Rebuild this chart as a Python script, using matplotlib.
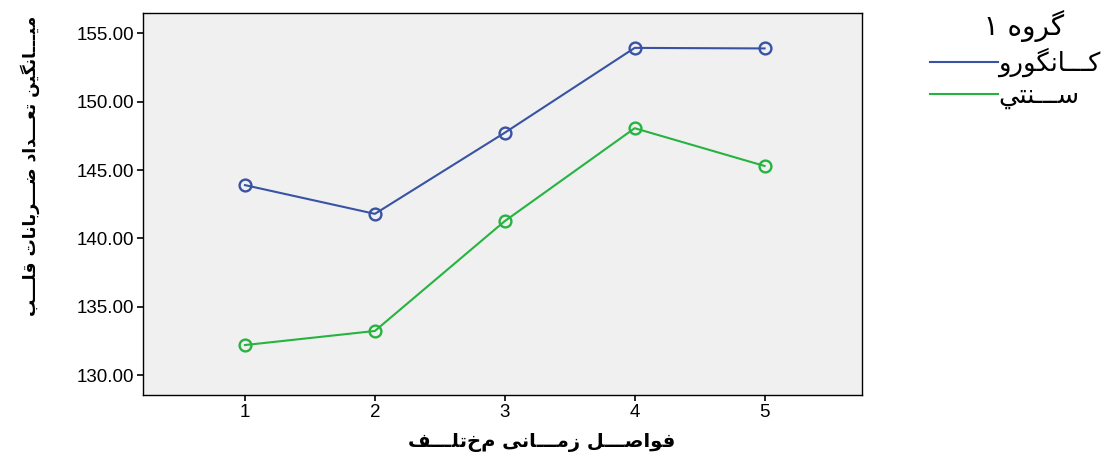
import matplotlib
matplotlib.use('Agg')
from matplotlib import pyplot as plt

plt.rcParams['font.family'] = ['Liberation Sans', 'DejaVu Sans']

# data
intervals = [1, 2, 3, 4, 5]
kangaroo = [143.90, 141.80, 147.73, 153.93, 153.89]
traditional = [132.21, 133.24, 141.27, 148.06, 145.30]
y_ticks = [130, 135, 140, 145, 150, 155]

series_names = ['کـــانگورو', 'ســـنتي']
legend_title = 'گروه'
legend_num = '۱'
x_label = 'فواصـــل زمـــانی مختلـــف'
y_label = 'میـــانگین تعـــداد ضـــربانات قلـــب'

# Arabic/Persian presentation forms: isolated, final, initial, medial
FORMS = {
    'ا': ('\uFE8D', '\uFE8E', None, None),
    'ب': ('\uFE8F', '\uFE90', '\uFE91', '\uFE92'),
    'ت': ('\uFE95', '\uFE96', '\uFE97', '\uFE98'),
    'د': ('\uFEA9', '\uFEAA', None, None),
    'ر': ('\uFEAD', '\uFEAE', None, None),
    'ز': ('\uFEAF', '\uFEB0', None, None),
    'س': ('\uFEB1', '\uFEB2', '\uFEB3', '\uFEB4'),
    'ص': ('\uFEB9', '\uFEBA', '\uFEBB', '\uFEBC'),
    'ض': ('\uFEBD', '\uFEBE', '\uFEBF', '\uFEC0'),
    'ع': ('\uFEC9', '\uFECA', '\uFECB', '\uFECC'),
    'ف': ('\uFED1', '\uFED2', '\uFED3', '\uFED4'),
    'ق': ('\uFED5', '\uFED6', '\uFED7', '\uFED8'),
    'ل': ('\uFEDD', '\uFEDE', '\uFEDF', '\uFEE0'),
    'م': ('\uFEE1', '\uFEE2', '\uFEE3', '\uFEE4'),
    'ن': ('\uFEE5', '\uFEE6', '\uFEE7', '\uFEE8'),
    'ه': ('\uFEE9', '\uFEEA', '\uFEEB', '\uFEEC'),
    'و': ('\uFEED', '\uFEEE', None, None),
    'ي': ('\uFEF1', '\uFEF2', '\uFEF3', '\uFEF4'),
    'ک': ('\uFB8E', '\uFB8F', '\uFB90', '\uFB91'),
    'گ': ('\uFB92', '\uFB93', '\uFB94', '\uFB95'),
    'ی': ('\uFBFC', '\uFBFD', '\uFBFE', '\uFBFF'),
    'ـ': ('ـ', 'ـ', 'ـ', 'ـ'),
}


def shape(text):
    """join the letters and return them in visual (left to right) order"""
    out = []
    for i, ch in enumerate(text):
        if ch not in FORMS:
            out.append(ch)
            continue
        prev = text[i - 1] if i > 0 else ''
        nxt = text[i + 1] if i + 1 < len(text) else ''
        join_prev = prev in FORMS and FORMS[prev][2] is not None
        join_next = nxt in FORMS and FORMS[ch][2] is not None
        iso, fin, ini, med = FORMS[ch]
        if join_prev and join_next:
            out.append(med)
        elif join_prev:
            out.append(fin)
        elif join_next:
            out.append(ini)
        else:
            out.append(iso)
    return ''.join(out)[::-1]


fig = plt.figure(figsize=(11.09, 4.59), dpi=100)
ax = fig.add_axes([143 / 1109, 64 / 459, 719 / 1109, 382 / 459])
ax.set_facecolor('#f0f0f0')

line_k, = ax.plot(intervals, kangaroo, color='#3953a4', lw=1.5,
                  marker='o', ms=8.5, mfc='none', mew=1.7)
line_t, = ax.plot(intervals, traditional, color='#27b340', lw=1.5,
                  marker='o', ms=8.5, mfc='none', mew=1.7)

ax.set_xlim(0.215, 5.75)
ax.set_ylim(128.56, 156.48)
ax.set_xticks(intervals)
ax.set_yticks(y_ticks)
ax.set_yticklabels(['%.2f' % v for v in y_ticks])
ax.tick_params(direction='out', length=4.5, width=1.2, pad=2, labelsize=13.5)
for s in ax.spines.values():
    s.set_linewidth(1.0)

fig.text(30 / 1109, 1 - 166 / 459, shape(y_label), rotation=90,
         ha='center', va='center', fontsize=12.3, fontweight='bold',
         family=['DejaVu Sans'])
fig.text(542 / 1109, 1 - 443 / 459, shape(x_label), ha='center', va='center',
         fontsize=14, fontweight='bold', family=['DejaVu Sans'])

leg = fig.legend([line_k, line_t], [shape(n) for n in series_names],
                 loc='upper left', bbox_to_anchor=(930 / 1109, 1 - 10 / 459),
                 frameon=False, handlelength=2.65, handletextpad=0.0,
                 labelspacing=0.22, borderpad=0, borderaxespad=0,
                 title='  ' + legend_num + ' ' + shape(legend_title),
                 prop={'family': ['DejaVu Sans'], 'size': 18.5},
                 title_fontproperties={'family': ['DejaVu Sans'], 'size': 20})
for h in leg.legend_handles:
    h.set_marker('')

fig.savefig('out.png', dpi=100)
